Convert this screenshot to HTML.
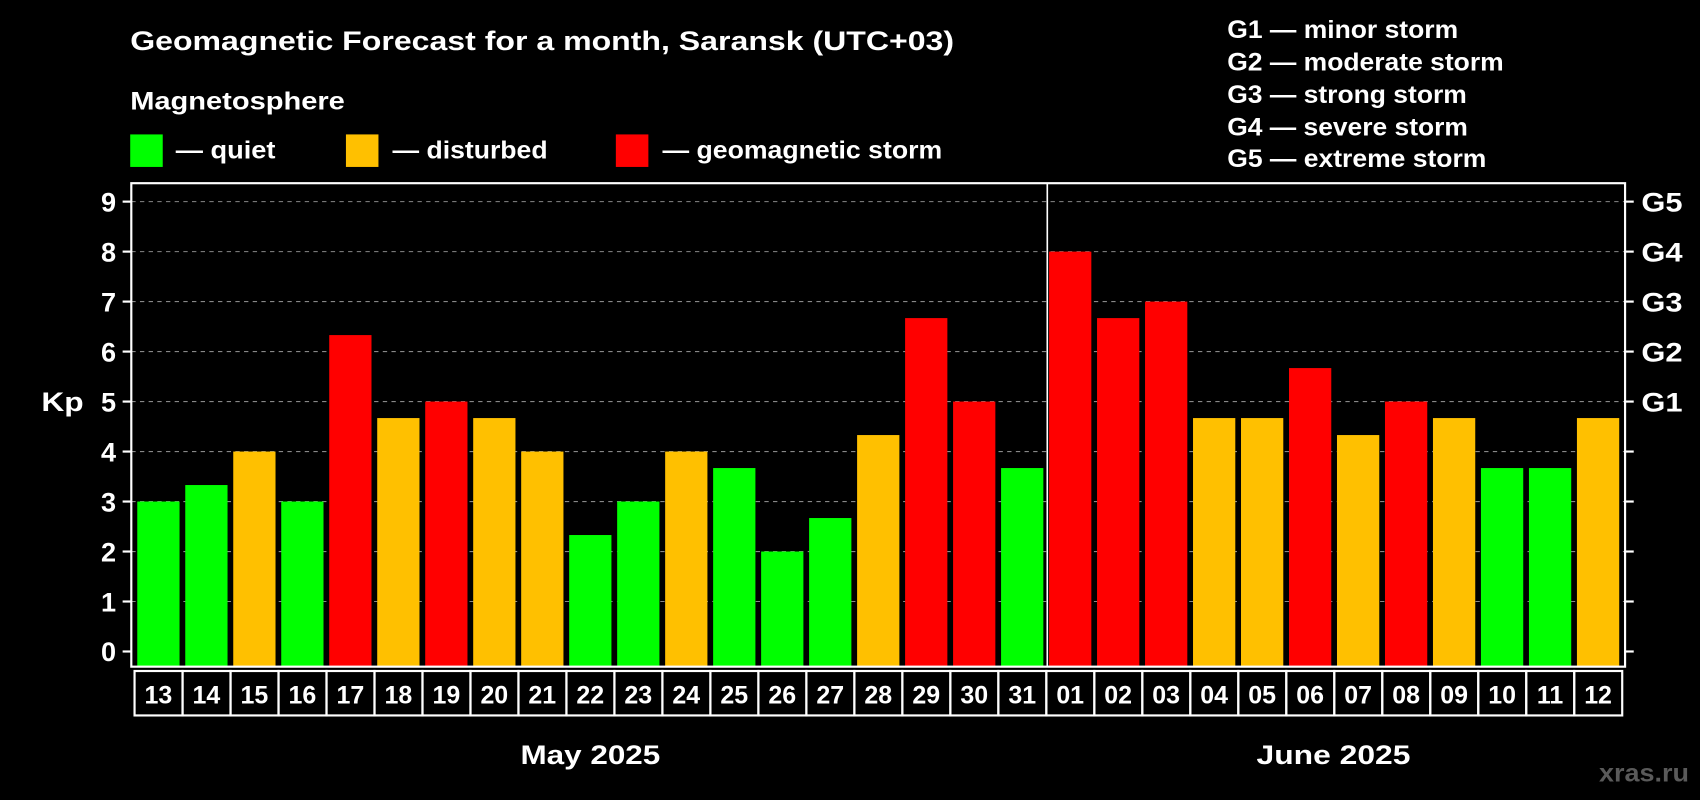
<!DOCTYPE html>
<html><head><meta charset="utf-8"><style>
html,body{margin:0;padding:0;background:#000;width:1700px;height:800px;overflow:hidden}
svg{display:block}
text{font-family:"Liberation Sans",Arial,sans-serif;font-weight:bold;fill:#fff}
</style></head><body>
<svg id="chart" width="1700" height="800" viewBox="0 0 1568 738">
<text x="120" y="46" font-size="25" textLength="760" lengthAdjust="spacingAndGlyphs">Geomagnetic Forecast for a month, Saransk (UTC+03)</text>
<text x="120" y="101" font-size="23" textLength="198" lengthAdjust="spacingAndGlyphs">Magnetosphere</text>
<g>
<rect x="120" y="124" width="30" height="30" fill="#00ff00"/>
<text x="162" y="146" font-size="23" textLength="92" lengthAdjust="spacingAndGlyphs">— quiet</text>
<rect x="319" y="124" width="30" height="30" fill="#ffc000"/>
<text x="362" y="146" font-size="23" textLength="143" lengthAdjust="spacingAndGlyphs">— disturbed</text>
<rect x="568" y="124" width="30" height="30" fill="#ff0000"/>
<text x="611" y="146" font-size="23" textLength="258" lengthAdjust="spacingAndGlyphs">— geomagnetic storm</text>
</g>
<g font-size="23">
<text x="1132" y="35" textLength="213" lengthAdjust="spacingAndGlyphs">G1 — minor storm</text>
<text x="1132" y="65" textLength="255" lengthAdjust="spacingAndGlyphs">G2 — moderate storm</text>
<text x="1132" y="95" textLength="221" lengthAdjust="spacingAndGlyphs">G3 — strong storm</text>
<text x="1132" y="125" textLength="222" lengthAdjust="spacingAndGlyphs">G4 — severe storm</text>
<text x="1132" y="154" textLength="239" lengthAdjust="spacingAndGlyphs">G5 — extreme storm</text>
</g>
<text x="38" y="379" font-size="25" textLength="39" lengthAdjust="spacingAndGlyphs">Kp</text>
<text x="480" y="705" font-size="25" textLength="129" lengthAdjust="spacingAndGlyphs">May 2025</text>
<text x="1159" y="705" font-size="25" textLength="142" lengthAdjust="spacingAndGlyphs">June 2025</text>
<text x="1475" y="721" font-size="23" textLength="83" lengthAdjust="spacingAndGlyphs" style="fill:#5a5a5a">xras.ru</text>
<g id="plot"></g>
</svg>
<script>
const days = ["13","14","15","16","17","18","19","20","21","22","23","24","25","26","27","28","29","30","31","01","02","03","04","05","06","07","08","09","10","11","12"];
const kp = [3,3.33,4,3,6.33,4.67,5,4.67,4,2.33,3,4,3.67,2,2.67,4.33,6.67,5,3.67,8,6.67,7,4.67,4.67,5.67,4.33,5,4.67,3.67,3.67,4.67];
const yTicks = [0,1,2,3,4,5,6,7,8,9];
const gLabels = ["","","","","","G1","G2","G3","G4","G5"];
const NS="http://www.w3.org/2000/svg";
const g=document.getElementById('plot');
const L=121,R=1499,T=169,B=615,y0=601,unit=(601-186)/9,x0=126.5,pitch=44.27,bw=39;
const y=v=>y0-v*unit, x=i=>x0+i*pitch;
function mk(t,a,p){const e=document.createElementNS(NS,t);for(const k in a)e.setAttribute(k,a[k]);(p||g).appendChild(e);return e;}
yTicks.forEach((v,i)=>{
 if(v>0){const ln=mk('line',{x1:L,x2:R,y1:y(v),y2:y(v),stroke:'#888','stroke-width':1,'stroke-dasharray':'4,4'});
 
 }
 mk('line',{x1:L-8,x2:L,y1:y(v),y2:y(v),stroke:'#fff','stroke-width':2});
 mk('line',{x1:R,x2:R+8,y1:y(v),y2:y(v),stroke:'#fff','stroke-width':2});
 const t=mk('text',{x:L-14,y:y(v)+9,'font-size':25,'text-anchor':'end'});t.textContent=v;
 
 
 if(gLabels[i]){const t2=mk('text',{x:R+15,y:y(v)+9,'font-size':25,textLength:38,lengthAdjust:'spacingAndGlyphs'});t2.textContent=gLabels[i];
 
 }
});
kp.forEach((v,i)=>{
 const c=v>=5?'#ff0000':(v>=4?'#ffc000':'#00ff00');
 const r=mk('rect',{x:x(i),y:y(v),width:bw,height:B-y(v),fill:c});
 
 
 const bx=mk('rect',{x:x(i)-2.5,y:619,width:pitch,height:41,fill:'none',stroke:'#fff','stroke-width':2});
 
 
 const t=mk('text',{x:x(i)+bw/2,y:649,'font-size':23,'text-anchor':'middle'});t.textContent=days[i];
 
 
});
const sep=mk('line',{x1:966,x2:966,y1:T,y2:B,stroke:'#fff','stroke-width':1.5});


const fr=mk('rect',{x:L,y:T,width:R-L,height:B-T,fill:'none',stroke:'#fff','stroke-width':2});


</script>
</body></html>
